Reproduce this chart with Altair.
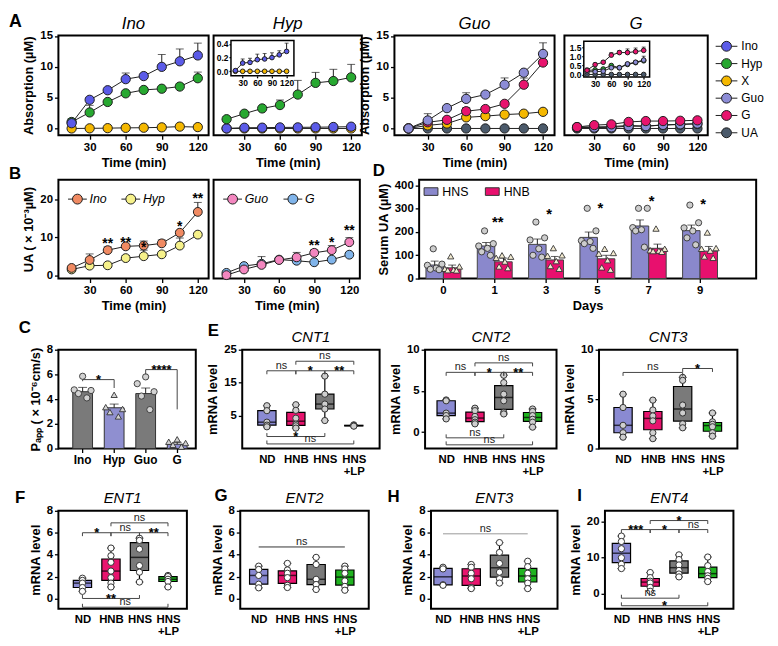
import json
import altair as alt
import pandas as pd

FONT = "Liberation Sans"
INK = "#1e1e1e"

# ======================= DATA =======================
times = [15, 30, 45, 60, 75, 90, 105, 120]
series_names = ["Ino", "Hyp", "X", "Guo", "G", "UA"]
series_colors = ["#5b5be8", "#27a830", "#f5b800", "#8c8cd6", "#e8146e", "#4b5a6b"]

# A - Ino incubation
a1_ino = [0.85, 4.65, 6.2, 8.0, 8.5, 10.0, 10.9, 11.85]
a1_ino_hi = [1.6, 4.8, 6.4, 9.0, 8.7, 12.0, 12.9, 13.85]
a1_hyp = [1.05, 2.6, 4.3, 5.7, 6.25, 6.45, 6.8, 8.15]
a1_hyp_hi = [1.3, 3.75, 4.5, 5.9, 6.6, 6.6, 7.25, 9.15]
a1_x = [0.0, 0.02, 0.05, 0.1, 0.12, 0.18, 0.3, 0.22]
a1_x_hi = [0.05, 0.05, 0.1, 0.15, 0.2, 0.3, 0.45, 0.35]
# A - Hyp incubation
a2_hyp = [1.5, 2.4, 3.25, 3.8, 5.5, 7.4, 7.7, 8.3]
a2_hyp_hi = [1.9, 2.7, 3.5, 4.6, 7.8, 9.1, 9.6, 10.4]
a2_ino = [0.01, 0.12, 0.13, 0.17, 0.18, 0.20, 0.24, 0.29]
a2_ino_hi = [0.02, 0.18, 0.19, 0.25, 0.26, 0.27, 0.30, 0.41]
a2_x = [0.0, 0.0, 0.0, 0.0, 0.0, 0.0, 0.0, 0.0]
a2_x_hi = [0.01, 0.01, 0.01, 0.01, 0.01, 0.01, 0.01, 0.01]
# A - Guo incubation
a3_guo = [0.0, 1.3, 3.3, 4.8, 5.5, 7.1, 9.05, 12.1]
a3_guo_hi = [0.1, 2.4, 3.5, 5.8, 5.9, 8.2, 9.2, 13.9]
a3_g = [0.0, 1.0, 1.4, 2.8, 3.15, 4.0, 7.1, 10.7]
a3_g_hi = [0.1, 1.2, 1.7, 3.4, 3.4, 4.2, 8.2, 11.0]
a3_x = [0.0, 0.5, 0.8, 1.8, 2.0, 2.25, 2.4, 2.7]
a3_x_hi = [0.1, 0.7, 1.0, 2.1, 2.3, 2.6, 2.6, 3.1]
a3_ua = [0.0, 0.0, 0.0, 0.0, 0.0, 0.0, 0.0, 0.0]
a3_ua_hi = [0.05, 0.05, 0.05, 0.05, 0.05, 0.05, 0.05, 0.05]
# A - G incubation
a4_g = [0.23, 0.54, 0.67, 1.06, 1.2, 1.2, 1.25, 1.32]
a4_g_hi = [0.35, 0.62, 0.75, 1.2, 1.3, 1.4, 1.45, 1.5]
a4_guo = [0.15, 0.15, 0.18, 0.37, 0.37, 0.58, 0.67, 0.79]
a4_guo_hi = [0.3, 0.25, 0.25, 0.45, 0.45, 0.65, 0.75, 1.0]
a4_hyp = [0.22, 0.25, 0.3, 0.49, 0.37, 0.55, 0.65, 0.75]
a4_hyp_hi = [0.3, 0.3, 0.35, 0.55, 0.4, 0.6, 0.7, 0.8]
a4_ua = [0.0, 0.0, 0.0, 0.0, 0.0, 0.0, 0.0, 0.0]
a4_ua_hi = [0.02, 0.02, 0.02, 0.02, 0.02, 0.02, 0.02, 0.02]

# B - UA formation
b1_names = ["Ino", "Hyp"]
b1_colors = ["#f08a62", "#f6f18a"]
b1_ino = [1.9, 4.0, 6.6, 7.6, 7.8, 8.4, 11.2, 16.7]
b1_ino_hi = [2.2, 5.6, 7.5, 8.0, 9.0, 9.3, 11.8, 19.2]
b1_hyp = [1.5, 2.5, 2.6, 4.5, 5.0, 5.5, 7.8, 10.7]
b1_hyp_hi = [1.8, 2.8, 2.9, 5.2, 6.6, 5.9, 9.8, 11.0]
b1_star_t = [45, 60, 75, 105, 120]
b1_star_y = [9.15, 9.6, 8.3, 13.85, 21.1]
b1_star_lab = ["**", "**", "*", "*", "**"]
b2_names = ["Guo", "G"]
b2_colors = ["#f386bf", "#80b4ea"]
b2_guo = [0.0, 1.5, 2.7, 4.0, 4.7, 5.9, 6.6, 8.7]
b2_guo_hi = [0.3, 2.8, 4.9, 4.3, 6.0, 6.7, 7.8, 9.9]
b2_g = [0.6, 2.4, 3.0, 4.1, 3.8, 3.4, 4.1, 5.4]
b2_g_hi = [0.8, 2.7, 3.3, 4.3, 4.0, 3.6, 4.2, 5.6]
b2_star_t = [90, 105, 120]
b2_star_y = [8.7, 9.6, 12.6]
b2_star_lab = ["**", "*", "**"]

# D - serum UA
days = ["0", "1", "3", "5", "7", "9"]
d_groups = ["HNS", "HNB"]
d_colors = ["#8a88cc", "#e8106e"]
d_hns = [58, 140, 147, 177, 226, 206]
d_hns_hi = [75, 155, 170, 200, 252, 230]
d_hnb = [46, 72, 80, 85, 130, 118]
d_hnb_hi = [58, 88, 95, 100, 148, 138]
d_hns_pts = [[128, 62, 57, 45, 40, 38], [205, 150, 140, 130, 115, 100],
             [243, 175, 166, 128, 100, 92], [302, 205, 163, 159, 150, 130],
             [302, 302, 219, 210, 205, 135], [316, 240, 218, 205, 175, 145]]
d_hnb_pts = [[96, 52, 42, 38, 36, 35], [100, 94, 89, 73, 52, 45],
             [131, 100, 98, 75, 54, 42], [128, 110, 107, 79, 48, 38],
             [215, 128, 122, 120, 118, 115], [198, 131, 128, 120, 95, 89]]
d_star_day = ["1", "3", "5", "7", "9"]
d_star_y = [254, 288, 316, 347, 334]
d_star_lab = ["**", "*", "*", "*", "*"]

# C - Papp
c_cats = ["Ino", "Hyp", "Guo", "G"]
c_colors = ["#7a7a7a", "#8f8fd0", "#7a7a7a", "#8f8fd0"]
c_mean = [4.6, 3.3, 4.45, 0.35]
c_hi = [4.95, 3.6, 4.9, 0.5]
c_pts = [[5.85, 4.75, 4.7, 4.45, 4.1], [4.35, 3.35, 3.2, 2.95, 2.6],
         [5.8, 5.25, 4.6, 4.25, 3.15], [0.75, 0.55, 0.45, 0.3, 0.15]]
c_shapes = ["circle", "triangle-up", "circle", "triangle-up"]

# E-I - mRNA
groups = ["ND", "HNB", "HNS", "HNS+LP"]
grp_colors = ["#8a8ad2", "#e8146e", "#7a7a7a", "#1fb31f"]
cnt1 = [[8.0, 6.5, 3.0, 2.1, 1.6], [8.3, 6.6, 4.2, 2.4, 1.9, 1.2],
        [17.0, 11.5, 8.5, 7.0, 3.5], [2.2, 2.0, 1.9, 1.8]]
cnt2 = [[3.9, 3.8, 2.3, 2.0, 1.6], [2.9, 2.6, 1.9, 1.5, 1.2, 1.0],
        [6.9, 6.0, 4.6, 3.8, 2.4, 2.2], [2.8, 2.5, 2.0, 1.55, 1.2, 0.6]]
cnt3 = [[5.5, 4.15, 2.35, 1.6, 1.15], [4.9, 3.9, 3.3, 2.8, 1.6, 1.0],
        [7.2, 6.9, 4.4, 3.6, 2.5, 2.1], [3.6, 2.7, 2.45, 2.2, 1.6, 1.25]]
ent1 = [[1.85, 1.65, 1.4, 1.0, 0.65], [4.6, 3.9, 3.3, 2.5, 1.9, 1.4, 1.05],
        [5.5, 5.3, 4.5, 3.0, 2.4, 1.5], [2.1, 2.0, 1.75, 1.55, 1.05]]
ent2 = [[2.95, 2.65, 2.1, 1.3, 0.97], [3.2, 2.6, 2.3, 1.9, 1.2, 1.0],
        [3.75, 3.1, 1.75, 1.27, 0.82], [2.95, 2.7, 2.3, 1.6, 1.1, 0.75]]
ent3 = [[2.85, 2.7, 1.25, 1.2], [3.1, 2.85, 2.3, 1.8, 1.0, 0.9],
        [5.1, 4.2, 3.2, 2.4, 1.8, 1.4], [3.4, 2.9, 2.3, 1.8, 1.4, 0.9]]
ent4 = [[16.0, 14.5, 12.5, 10.0, 8.2, 7.0], [5.9, 4.5, 3.5, 3.0, 1.8, 0.7],
        [10.8, 9.5, 8.0, 6.5, 5.5, 4.7], [10.2, 7.8, 6.2, 5.0, 4.3, 3.4]]
# significance brackets: (group a, group b, level, label)
cnt1_top = [(0, 1, 18.6, "ns"), (1, 2, 18.6, "*"), (2, 3, 18.6, "**"), (1, 3, 21.5, "ns")]
cnt1_bot = [(0, 2, -1.35, "*"), (0, 3, -3.6, "ns")]
cnt2_top = [(0, 1, 7.25, "ns"), (1, 2, 7.25, "*"), (2, 3, 7.25, "**"), (1, 3, 8.4, "ns")]
cnt2_bot = [(0, 2, -0.7, "ns"), (0, 3, -1.55, "ns")]
cnt3_top = [(0, 2, 7.7, "ns"), (2, 3, 8.1, "*")]
ent1_top = [(0, 1, 6.0, "*"), (1, 2, 6.0, "ns"), (2, 3, 6.0, "**"), (1, 3, 6.9, "ns")]
ent1_bot = [(0, 2, 0.0, "**"), (0, 3, -0.8, "ns")]
ent2_top = [(0, 3, 4.7, "ns")]
ent3_top = [(0, 3, 5.9, "ns")]
ent4_top = [(0, 1, 17.8, "***"), (1, 2, 17.8, "*"), (2, 3, 17.8, "ns"), (1, 3, 20.3, "*")]
ent4_bot = [(0, 2, -1.2, "ns"), (0, 3, -3.3, "*")]

# ======================= HELPERS =======================
SYM_LEG = "M-2.2,0L-1,0M1,0L2.2,0M1,0A1,1,0,1,1,-1,0A1,1,0,1,1,1,0Z"
SYM_LEG_B = "M-1.9,0L-1,0M1,0L1.9,0M1,0A1,1,0,1,1,-1,0A1,1,0,1,1,1,0Z"
SYM_RECT = "M-1,-0.55H1V0.55H-1Z"
SCATTER6 = [2, 5, 0, 3, 1, 4]   # column order used to spread replicate dots
SCATTER5 = [2, 0, 4, 1, 3]


def ts_df(items):
    rows = []
    for name, m, hi in items:
        for t, a, b in zip(times, m, hi):
            rows.append({"t": t, "s": name, "m": a, "hi": b})
    return pd.DataFrame(rows)


def letter(ch, x, y, size=17):
    return alt.Chart(pd.DataFrame({"t": [ch]})).mark_text(
        align="left", baseline="alphabetic", fontSize=size, fontWeight="bold", color="black"
    ).encode(text="t:N", x=alt.value(x), y=alt.value(y))


def ptitle(txt, w, y, size=17):
    return alt.Chart(pd.DataFrame({"t": [txt]})).mark_text(
        align="center", baseline="alphabetic", fontSize=size, fontStyle="italic", color="black"
    ).encode(text="t:N", x=alt.value(w / 2), y=alt.value(y))


def ts_layers(df, xsc, ysc, xax, yax, cscale, legend, size, cap):
    base = alt.Chart(df)
    X = alt.X("t:Q", scale=xsc, axis=xax)
    stem = base.mark_rule(color=INK, strokeWidth=1).encode(
        x=X, y=alt.Y("m:Q", scale=ysc, axis=yax), y2="hi:Q")
    capm = base.mark_tick(color=INK, thickness=1, size=cap, orient="horizontal").encode(
        x=X, y=alt.Y("hi:Q", scale=ysc, axis=yax))
    line = base.mark_line(color=INK, strokeWidth=1).encode(
        x=X, y=alt.Y("m:Q", scale=ysc, axis=yax), detail="s:N")
    pts = base.mark_point(filled=True, size=size, stroke=INK, strokeWidth=1, opacity=1).encode(
        x=X, y=alt.Y("m:Q", scale=ysc, axis=yax),
        color=alt.Color("s:N", scale=cscale, legend=legend))
    return [stem, capm, line, pts]


def spacer(w, h):
    return alt.Chart(pd.DataFrame({"z": [0]})).mark_point(opacity=0).properties(
        width=w, height=h, view=alt.ViewBackground(strokeOpacity=0))


# ======================= ROW A =======================
H_A = 101
A_XSC = alt.Scale(domain=[4, 129], nice=False, zero=False)
A_YSC = alt.Scale(domain=[-1.1, 15.1], nice=False, zero=False)
A_XAX = alt.Axis(values=[30, 60, 90, 120], title="Time (min)")
A_YAX = alt.Axis(values=[0, 5, 10, 15], title="Absorption (µM)")
CS_A = alt.Scale(domain=series_names, range=series_colors)
A_LEG = alt.Legend(title=None, orient="right", offset=8, padding=5, symbolType=SYM_LEG,
                   symbolSize=100, symbolStrokeColor=INK, symbolStrokeWidth=1,
                   labelFontSize=12, labelOffset=9, rowPadding=3.5)
A_TY = -6


def inset(items, xdom, xr, ydom, yr, yvals, legend):
    xsc = alt.Scale(domain=xdom, range=xr, nice=False, zero=False)
    ysc = alt.Scale(domain=ydom, range=yr, nice=False, zero=False)
    xax = alt.Axis(orient="bottom", offset=-(H_A - yr[0]), values=[30, 60, 90, 120],
                   labelFontSize=8.5, tickSize=2, labelPadding=1, title=None)
    yax = alt.Axis(orient="left", offset=-xr[0], values=yvals, format=".1f",
                   labelFontSize=8.5, tickSize=2, labelPadding=1, title=None)
    frame = alt.Chart(pd.DataFrame({"x0": [xdom[0]], "x1": [xdom[1]], "y0": [ydom[0]], "y1": [ydom[1]]})
                      ).mark_rect(fill="white", stroke="black", strokeWidth=1.5).encode(
        x=alt.X("x0:Q", scale=xsc, axis=xax), x2="x1:Q",
        y=alt.Y("y0:Q", scale=ysc, axis=yax), y2="y1:Q")
    return alt.layer(frame, *ts_layers(ts_df(items), xsc, ysc, xax, yax, CS_A, legend, 22, 4))


A1 = alt.layer(
    *ts_layers(ts_df([("X", a1_x, a1_x_hi), ("Hyp", a1_hyp, a1_hyp_hi), ("Ino", a1_ino, a1_ino_hi)]),
               A_XSC, A_YSC, A_XAX, A_YAX, CS_A, None, 88, 8),
    letter("A", -50, -9, 18),
    ptitle("Ino", 152, A_TY),
).properties(width=152, height=H_A)

a2_items = [("X", a2_x, a2_x_hi), ("Ino", a2_ino, a2_ino_hi)]
A2 = alt.layer(
    alt.layer(*ts_layers(ts_df(a2_items + [("Hyp", a2_hyp, a2_hyp_hi)]),
                         A_XSC, A_YSC, A_XAX, None, CS_A, None, 88, 8)),
    inset(a2_items, [6, 135], [17.6, 81.3], [-0.066, 0.448], [40.9, 5.2], [0, 0.2, 0.4], None),
    ptitle("Hyp", 150, A_TY),
).resolve_scale(x="independent", y="independent").properties(width=150, height=H_A)

A3 = alt.layer(
    *ts_layers(ts_df([("UA", a3_ua, a3_ua_hi), ("X", a3_x, a3_x_hi), ("G", a3_g, a3_g_hi),
                      ("Guo", a3_guo, a3_guo_hi)]),
               A_XSC, A_YSC, A_XAX, A_YAX, CS_A, None, 88, 8),
    ptitle("Guo", 162, A_TY),
).properties(width=162, height=H_A)

a4_items = [("UA", a4_ua, a4_ua_hi), ("Hyp", a4_hyp, a4_hyp_hi), ("Guo", a4_guo, a4_guo_hi),
            ("G", a4_g, a4_g_hi)]
A4 = alt.layer(
    alt.layer(*ts_layers(ts_df(a4_items), A_XSC, A_YSC, A_XAX, None, CS_A, A_LEG, 88, 8)),
    inset(a4_items, [9, 131], [19.6, 86.2], [-0.14, 1.82], [42.1, 5.9], [0, 0.5, 1.0, 1.5], A_LEG),
    ptitle("G", 145, A_TY),
).resolve_scale(x="independent", y="independent").properties(width=145, height=H_A)

rowA = alt.hconcat(A1, spacer(5, H_A), A2, spacer(33, H_A), A3, spacer(10, H_A), A4,
                   spacing=0, bounds="flush").resolve_scale(color="independent")

# ======================= ROW B =======================
H_B = 100
B_YSC = alt.Scale(domain=[-0.9, 25.2], nice=False, zero=False)
B_YAX = alt.Axis(values=[0, 10, 20], title="UA ( × 10⁻³µM)")


def b_leg():
    return alt.Legend(title=None, orient="top-left", direction="horizontal", offset=8, padding=5,
                      symbolType=SYM_LEG_B, symbolSize=100, symbolStrokeColor=INK,
                      symbolStrokeWidth=1, labelFontSize=12.5, labelFontStyle="italic",
                      labelOffset=6, columnPadding=12)


def stars(ts, ys, labs, ysc, yax):
    df = pd.DataFrame({"t": ts, "y": ys, "lab": labs})
    return alt.Chart(df).mark_text(fontSize=14, fontWeight="bold", baseline="alphabetic", dy=8,
                                   color="black").encode(
        x=alt.X("t:Q", scale=A_XSC, axis=A_XAX), y=alt.Y("y:Q", scale=ysc, axis=yax), text="lab:N")


B1 = alt.layer(
    *ts_layers(ts_df([("Hyp", b1_hyp, b1_hyp_hi), ("Ino", b1_ino, b1_ino_hi)]), A_XSC, B_YSC, A_XAX,
               B_YAX, alt.Scale(domain=b1_names, range=b1_colors), b_leg(), 80, 8),
    stars(b1_star_t, b1_star_y, b1_star_lab, B_YSC, B_YAX),
    letter("B", -50, -1),
).properties(width=152, height=H_B)

B2 = alt.layer(
    *ts_layers(ts_df([("G", b2_g, b2_g_hi), ("Guo", b2_guo, b2_guo_hi)]), A_XSC, B_YSC, A_XAX,
               None, alt.Scale(domain=b2_names, range=b2_colors), b_leg(), 80, 8),
    stars(b2_star_t, b2_star_y, b2_star_lab, B_YSC, None),
).properties(width=148, height=H_B)

# D
D_XSC = alt.Scale(domain=days, paddingInner=0.32, paddingOuter=0.443, align=0.15)
D_XAX = alt.Axis(title="Days", labelAngle=0)
D_YSC = alt.Scale(domain=[0, 425], nice=False, zero=False)
D_YAX = alt.Axis(values=[0, 100, 200, 300, 400], title="Serum UA (µM)")
d_bar_rows = []
for k, dname in enumerate(days):
    d_bar_rows.append({"day": dname, "grp": "HNS", "m": d_hns[k], "hi": d_hns_hi[k]})
    d_bar_rows.append({"day": dname, "grp": "HNB", "m": d_hnb[k], "hi": d_hnb_hi[k]})
dfD = pd.DataFrame(d_bar_rows)
d_pt_rows = []
for k, dname in enumerate(days):
    for j, v in enumerate(d_hns_pts[k]):
        d_pt_rows.append({"day": dname, "grp": "HNS", "v": v, "slot": SCATTER6[j], "shp": "circle"})
    for j, v in enumerate(d_hnb_pts[k]):
        d_pt_rows.append({"day": dname, "grp": "HNB", "v": v, "slot": 6 + SCATTER6[j], "shp": "triangle-up"})
dfDp = pd.DataFrame(d_pt_rows)
DX = alt.X("day:N", scale=D_XSC, axis=D_XAX, sort=days)
DOFF = alt.XOffset("grp:N", scale=alt.Scale(domain=d_groups, paddingInner=0, paddingOuter=0))
D_LEG = alt.Legend(title=None, orient="top-left", direction="horizontal", offset=3, padding=1.5,
                   symbolType=SYM_RECT, symbolSize=196, symbolStrokeColor="#333",
                   symbolStrokeWidth=1, labelFontSize=12.5, labelOffset=4, columnPadding=14)
D = alt.layer(
    alt.Chart(dfD).mark_bar(stroke="#444", strokeWidth=1).encode(
        x=DX, xOffset=DOFF, y=alt.Y("m:Q", scale=D_YSC, axis=D_YAX),
        color=alt.Color("grp:N", scale=alt.Scale(domain=d_groups, range=d_colors), legend=D_LEG)),
    alt.Chart(dfD).mark_rule(color=INK, strokeWidth=1).encode(
        x=DX, xOffset=DOFF, y=alt.Y("m:Q", scale=D_YSC, axis=D_YAX), y2="hi:Q"),
    alt.Chart(dfD).mark_tick(color=INK, thickness=1, size=8, orient="horizontal").encode(
        x=DX, xOffset=DOFF, y=alt.Y("hi:Q", scale=D_YSC, axis=D_YAX)),
    alt.Chart(dfDp).mark_point(filled=True, size=40, stroke="#333", strokeWidth=0.9, opacity=1).encode(
        x=DX, xOffset=alt.XOffset("slot:O", scale=alt.Scale(paddingOuter=0.5)),
        y=alt.Y("v:Q", scale=D_YSC, axis=D_YAX),
        shape=alt.Shape("shp:N", scale=None),
        fill=alt.Fill("grp:N", scale=alt.Scale(domain=d_groups, range=["#cdcdcd", "#f2ead0"]), legend=None)),
    alt.Chart(pd.DataFrame({"day": d_star_day, "y": d_star_y, "lab": d_star_lab})).mark_text(
        fontSize=15, fontWeight="bold", baseline="alphabetic", dy=8, dx=3, color="black").encode(
        x=DX, y=alt.Y("y:Q", scale=D_YSC, axis=D_YAX), text="lab:N"),
    letter("D", -47, -4),
).resolve_scale(xOffset="independent").properties(width=341, height=H_B)

rowB = alt.hconcat(B1, spacer(5, H_B), B2, spacer(60, H_B), D, spacing=0, bounds="flush"
                   ).resolve_scale(color="independent", fill="independent")

# ======================= ROW C / E =======================
H_C = 100
C_XSC = alt.Scale(domain=c_cats, paddingInner=0.385, paddingOuter=0.372, align=0.62)
C_XAX = alt.Axis(title=None, labelAngle=0, labelFontSize=12)
C_YSC = alt.Scale(domain=[0, 8], nice=False, zero=False)
C_YAX = alt.Axis(values=[0, 2, 4, 6, 8], title="Pₐₚₚ ( × 10⁻⁶cm/s)")
CX = alt.X("c:N", scale=C_XSC, axis=C_XAX, sort=c_cats)
dfC = pd.DataFrame({"c": c_cats, "m": c_mean, "hi": c_hi})
c_rows = []
for k, cname in enumerate(c_cats):
    for j, v in enumerate(c_pts[k]):
        c_rows.append({"c": cname, "v": v, "slot": SCATTER5[j], "shp": c_shapes[k]})
dfCp = pd.DataFrame(c_rows)
c_step = 139 / (4 - 0.385 + 2 * 0.372)
dfCb = pd.DataFrame({"a": ["Ino", "Guo"], "b": ["Hyp", "G"], "y": [5.58, 6.39],
                     "ya": [5.45, 6.0], "yb": [4.9, 3.17], "lab": ["*", "****"]})
CXa = alt.X("a:N", scale=C_XSC, axis=C_XAX, sort=c_cats, bandPosition=0.5)
CXb = alt.X("b:N", scale=C_XSC, axis=C_XAX, sort=c_cats, bandPosition=0.5)


def CY(f):
    return alt.Y(f, scale=C_YSC, axis=C_YAX)


C = alt.layer(
    alt.Chart(dfC).mark_bar(size=20, stroke="#333", strokeWidth=1).encode(
        x=CX, y=CY("m:Q"),
        color=alt.Color("c:N", scale=alt.Scale(domain=c_cats, range=c_colors), legend=None)),
    alt.Chart(dfC).mark_rule(color=INK).encode(x=CX, y=CY("m:Q"), y2="hi:Q"),
    alt.Chart(dfC).mark_tick(color=INK, thickness=1, size=9, orient="horizontal").encode(x=CX, y=CY("hi:Q")),
    alt.Chart(dfCp).mark_point(filled=True, size=40, fill="#d2d2d2", stroke="#333", strokeWidth=0.9,
                               opacity=1).encode(
        x=CX, xOffset=alt.XOffset("slot:O", scale=alt.Scale(paddingOuter=0.3)), y=CY("v:Q"),
        shape=alt.Shape("shp:N", scale=None)),
    alt.Chart(dfCb).mark_rule(color="#444").encode(x=CXa, x2=alt.X2("b:N", bandPosition=0.5), y=CY("y:Q")),
    alt.Chart(dfCb).mark_rule(color="#444").encode(x=CXa, y=CY("y:Q"), y2="ya:Q"),
    alt.Chart(dfCb).mark_rule(color="#444").encode(x=CXb, y=CY("y:Q"), y2="yb:Q"),
    alt.Chart(dfCb.iloc[[0]]).mark_text(fontSize=13, fontWeight="bold", baseline="alphabetic", dy=4.5,
                                        dx=c_step / 2, color="black").encode(x=CXa, y=CY("y:Q"), text="lab:N"),
    alt.Chart(dfCb.iloc[[1]]).mark_text(fontSize=13, fontWeight="bold", baseline="alphabetic", dy=4.5,
                                        dx=c_step / 2, color="black").encode(x=CXa, y=CY("y:Q"), text="lab:N"),
    letter("C", -40, -17),
).properties(width=139, height=H_C)


def lab_lines(g):
    if "+" in g:
        k = g.index("+")
        return [g[:k], g[k:]]
    return g


LABEL_EXPR = "[" + ",".join(json.dumps(lab_lines(g)) for g in groups) + "][datum.value]"


def box_panel(vals, ydom, yticks, xdom, top, bot, name, w, h, ptfill, letter_spec,
              plain=False, brcolor="#444", title_y=-8):
    rows = [{"i": k, "g": groups[k], "v": v} for k, vs in enumerate(vals) for v in vs]
    df = pd.DataFrame(rows)
    xsc = alt.Scale(domain=xdom, nice=False, zero=False)
    ysc = alt.Scale(domain=ydom, nice=False, zero=False)
    xax = alt.Axis(values=[0, 1, 2, 3], labelExpr=LABEL_EXPR, title=None, labelFontSize=11.5,
                   labelLineHeight=12, ticks=False, labelPadding=5)
    yax = alt.Axis(values=yticks, title="mRNA level")

    def X(f):
        return alt.X(f, scale=xsc, axis=xax)

    def Y(f):
        return alt.Y(f, scale=ysc, axis=yax)

    bw = 18.5
    base = alt.Chart(df)
    agg = base.transform_aggregate(lo="min(v)", q1="q1(v)", med="median(v)", q3="q3(v)", hi="max(v)",
                                   groupby=["i", "g"])
    layers = [
        agg.mark_rule(color="black", strokeWidth=1.2).encode(x=X("i:Q"), y=Y("lo:Q"), y2="hi:Q"),
        agg.mark_bar(size=bw, stroke="black", strokeWidth=1.2).encode(
            x=X("i:Q"), y=Y("q1:Q"), y2="q3:Q",
            color=alt.Color("g:N", scale=alt.Scale(domain=groups, range=grp_colors), legend=None)),
        agg.mark_tick(color="black", thickness=1.5, size=bw, orient="horizontal").encode(x=X("i:Q"), y=Y("med:Q")),
        agg.mark_tick(color="black", thickness=1.2, size=8, orient="horizontal").encode(x=X("i:Q"), y=Y("lo:Q")),
        agg.mark_tick(color="black", thickness=1.2, size=8, orient="horizontal").encode(x=X("i:Q"), y=Y("hi:Q")),
        base.mark_point(filled=True, size=40, fill=ptfill, stroke="#333", strokeWidth=1, opacity=1).encode(
            x=X("i:Q"), y=Y("v:Q")),
    ]
    dl = 0.035 * (ydom[1] - ydom[0])
    br = []
    for a, b, y, lab in top:
        br.append({"a": a, "b": b, "y": y, "ye": y - dl, "lab": lab, "xm": (a + b) / 2})
    for a, b, y, lab in bot:
        br.append({"a": a, "b": b, "y": y, "ye": y + dl, "lab": lab, "xm": (a + b) / 2})
    if br:
        dfb = pd.DataFrame(br)
        bb = alt.Chart(dfb)
        layers.append(bb.mark_rule(color=brcolor, strokeWidth=1).encode(x=X("a:Q"), x2="b:Q", y=Y("y:Q")))
        if not plain:
            layers.append(bb.mark_rule(color=brcolor, strokeWidth=1).encode(x=X("a:Q"), y=Y("y:Q"), y2="ye:Q"))
            layers.append(bb.mark_rule(color=brcolor, strokeWidth=1).encode(x=X("b:Q"), y=Y("y:Q"), y2="ye:Q"))
        ns = dfb[dfb["lab"] == "ns"]
        st = dfb[dfb["lab"] != "ns"]
        if len(ns):
            layers.append(alt.Chart(ns).mark_text(fontSize=11, baseline="alphabetic", dy=-2,
                                                  color="#222").encode(x=X("xm:Q"), y=Y("y:Q"), text="lab:N"))
        if len(st):
            layers.append(alt.Chart(st).mark_text(fontSize=13, fontWeight="bold", baseline="alphabetic",
                                                  dy=4.5, color="black").encode(x=X("xm:Q"), y=Y("y:Q"),
                                                                                text="lab:N"))
    if letter_spec:
        layers.append(letter(*letter_spec))
    layers.append(ptitle(name, w, title_y, 15))
    return alt.layer(*layers).properties(width=w, height=h)


E1 = box_panel(cnt1, [-5, 25], [5, 15, 25], [-0.68, 3.72], cnt1_top, cnt1_bot, "CNT1", 139, H_C,
               "#cfcfcf", ("E", -35, -14))
E2 = box_panel(cnt2, [-2, 10], [0, 5, 10], [-0.56, 3.66], cnt2_top, cnt2_bot, "CNT2", 133, H_C,
               "#cfcfcf", None)
E3 = box_panel(cnt3, [0, 10], [0, 5, 10], [-0.64, 3.67], cnt3_top, [], "CNT3", 140, H_C,
               "#cfcfcf", None)

rowC = alt.hconcat(C, spacer(47, H_C), E1, spacer(46, H_C), E2, spacer(43, H_C), E3,
                   spacing=0, bounds="flush").resolve_scale(color="independent")

# ======================= ROW F-I =======================
H_F = 99
F = box_panel(ent1, [-0.93, 8], [0, 2, 4, 6, 8], [-0.67, 3.49], ent1_top, ent1_bot, "ENT1", 130, H_F,
              "white", ("F", -44, -8))
G = box_panel(ent2, [-0.93, 8], [0, 2, 4, 6, 8], [-0.47, 3.66], ent2_top, [], "ENT2", 130, H_F,
              "white", ("G", -26, -10), plain=True, brcolor="#333")
Hh = box_panel(ent3, [-0.93, 8], [0, 2, 4, 6, 8], [-0.25, 3.88], ent3_top, [], "ENT3", 128, H_F,
               "white", ("H", -44, -9), plain=True, brcolor="#999")
I = box_panel(ent4, [-4.1, 23], [0, 10, 20], [-0.4, 3.72], ent4_top, ent4_bot, "ENT4", 130, H_F,
              "white", ("I", -28, -10))

rowF = alt.hconcat(F, spacer(54, H_F), G, spacer(63, H_F), Hh, spacer(48, H_F), I,
                   spacing=0, bounds="flush").resolve_scale(color="independent")

# ======================= ASSEMBLY =======================
chart = alt.concat(
    alt.concat(
        alt.concat(rowA, rowB, columns=1, spacing=-10, align="none").resolve_scale(color="independent", fill="independent"),
        rowC, columns=1, spacing=4, align="none").resolve_scale(color="independent", fill="independent"),
    rowF, columns=1, spacing=8, align="none",
).resolve_scale(color="independent", fill="independent").properties(
    padding=0
).configure(font=FONT).configure_view(stroke="black", strokeWidth=2).configure_axis(
    labelFont=FONT, labelFontWeight="bold", labelFontSize=11.5, labelColor="black",
    titleFont=FONT, titleFontWeight="bold", titleFontSize=13, titleColor="black",
    domain=False, grid=False, tickColor="black", tickWidth=1.3, tickSize=4, labelPadding=2,
    titlePadding=4,
).configure_title(font=FONT, color="black").configure_legend(
    labelFont=FONT, labelColor="black")

chart.save("out.html", embed_options={"renderer": "svg", "actions": False})
